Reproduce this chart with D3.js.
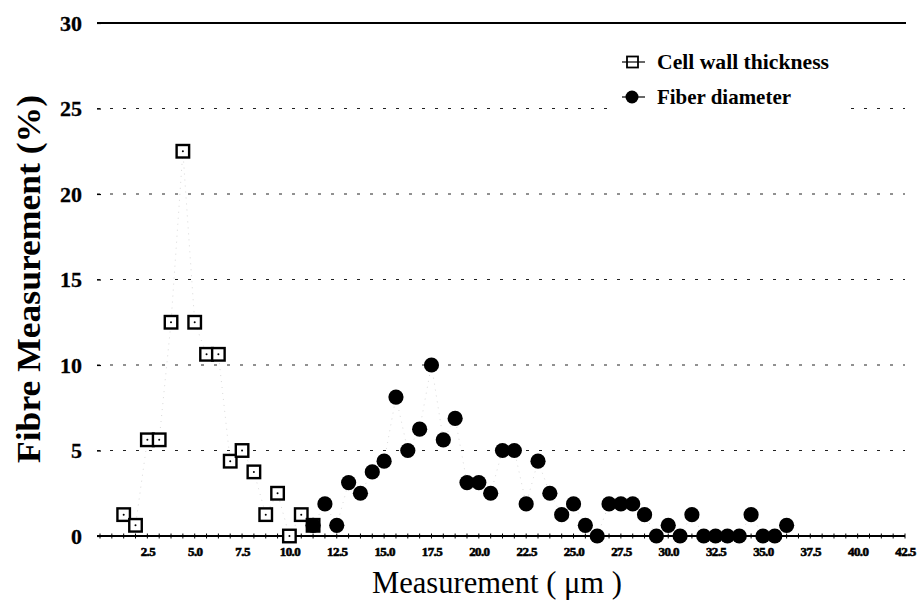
<!DOCTYPE html>
<html>
<head>
<meta charset="utf-8">
<script src="https://cdn.jsdelivr.net/npm/d3@7"></script>
<style>
  html, body { margin: 0; padding: 0; background: #fff; }
  svg { display: block; }
</style>
</head>
<body>
<svg id="chart" width="919" height="604"></svg>
<script>
// Class midpoints (µm), one class every 0.625 µm
const wallX = [1.25, 1.875, 2.5, 3.125, 3.75, 4.375, 5.0, 5.625, 6.25, 6.875,
               7.5, 8.125, 8.75, 9.375, 10.0, 10.625, 11.25];
// Cell wall thickness, share of fibres per class (%)
const wallY = [1.25, 0.625, 5.625, 5.625, 12.5, 22.5, 12.5, 10.625, 10.625, 4.375,
               5.0, 3.75, 1.25, 2.5, 0, 1.25, 0.625];

const fiberX = [11.25, 11.875, 12.5, 13.125, 13.75, 14.375, 15.0, 15.625, 16.25, 16.875,
                17.5, 18.125, 18.75, 19.375, 20.0, 20.625, 21.25, 21.875, 22.5, 23.125,
                23.75, 24.375, 25.0, 25.625, 26.25, 26.875, 27.5, 28.125, 28.75, 29.375,
                30.0, 30.625, 31.25, 31.875, 32.5, 33.125, 33.75, 34.375, 35.0, 35.625, 36.25];
// Fiber diameter, share of fibres per class (%)
const fiberY = [0.625, 1.875, 0.625, 3.125, 2.5, 3.75, 4.375, 8.125, 5.0, 6.25,
                10.0, 5.625, 6.875, 3.125, 3.125, 2.5, 5.0, 5.0, 1.875, 4.375,
                2.5, 1.25, 1.875, 0.625, 0, 1.875, 1.875, 1.875, 1.25, 0,
                0.625, 0, 1.25, 0, 0, 0, 0, 1.25, 0, 0, 0.625];

const xTicks = [2.5, 5.0, 7.5, 10.0, 12.5, 15.0, 17.5, 20.0, 22.5, 25.0,
                27.5, 30.0, 32.5, 35.0, 37.5, 40.0, 42.5];
const yTicks = [0, 5, 10, 15, 20, 25, 30];
const seriesNames = ["Cell wall thickness", "Fiber diameter"];

const svg = d3.select("#chart");
const serif = "'Liberation Serif', 'Times New Roman', serif";

const x = d3.scaleLinear().domain([0, 42.5]).range([100, 905]);
const y = d3.scaleLinear().domain([0, 30]).range([536, 23]);

// Horizontal grid: dashed inner lines, solid frame line on top
const gridG = svg.append("g");
yTicks.filter(v => v > 0 && v < 30).forEach(v => {
  gridG.append("line")
    .attr("x1", 97).attr("x2", x(42.5))
    .attr("y1", y(v)).attr("y2", y(v))
    .attr("stroke", "#222").attr("stroke-width", 1)
    .attr("stroke-dasharray", "3,10");
});
gridG.append("line")
  .attr("x1", 97).attr("x2", x(42.5) + 1)
  .attr("y1", y(30)).attr("y2", y(30))
  .attr("stroke", "#000").attr("stroke-width", 2);

// Y axis labels (no axis line)
const yAxis = d3.axisLeft(y).tickValues(yTicks).tickSize(4).tickPadding(15).tickFormat(d3.format("d"));
const yg = svg.append("g").attr("transform", "translate(101,0)").call(yAxis);
yg.select(".domain").remove();
yg.selectAll(".tick line").attr("stroke", "#000").attr("stroke-width", 1.2);
yg.selectAll(".tick text")
  .attr("font-family", serif).attr("font-weight", "bold")
  .attr("font-size", 22).attr("fill", "#000")
  .attr("stroke", "#000").attr("stroke-width", 0.3);

// X axis along zero with small class ticks
const xAxis = d3.axisBottom(x).tickValues(xTicks).tickSize(0).tickPadding(11)
  .tickFormat(d3.format(".1f"));
const xg = svg.append("g").attr("transform", `translate(0,${y(0)})`).call(xAxis);
xg.select(".domain").remove();
xg.selectAll(".tick text")
  .attr("font-family", serif).attr("font-weight", "bold")
  .attr("font-size", 13).attr("fill", "#000")
  .attr("stroke", "#000").attr("stroke-width", 0.6)
  .attr("letter-spacing", -0.6);
svg.append("line")
  .attr("x1", 97).attr("x2", x(42.5))
  .attr("y1", y(0)).attr("y2", y(0))
  .attr("stroke", "#000").attr("stroke-width", 2);
const minor = d3.range(0, 42.5 + 0.001, 0.625);
svg.append("g").selectAll("line").data(minor).join("line")
  .attr("x1", d => x(d)).attr("x2", d => x(d))
  .attr("y1", y(0) - 2.5).attr("y2", y(0) + 2.5)
  .attr("stroke", "#000").attr("stroke-width", 1);

// Axis titles
svg.append("text")
  .attr("transform", `translate(40,${279}) rotate(-90)`)
  .attr("text-anchor", "middle")
  .attr("font-family", serif).attr("font-weight", "bold")
  .attr("font-size", 34)
  .attr("textLength", 368).attr("lengthAdjust", "spacingAndGlyphs")
  .text("Fibre Measurement (%)");

svg.append("text")
  .attr("x", 497).attr("y", 593)
  .attr("text-anchor", "middle")
  .attr("font-family", serif)
  .attr("font-size", 31)
  .attr("textLength", 250).attr("lengthAdjust", "spacingAndGlyphs")
  .text("Measurement ( \u03bcm )");

// Faint dotted connectors between consecutive classes
const line = d3.line().x(d => x(d[0])).y(d => y(d[1]));
const wallPts = wallX.map((v, i) => [v, wallY[i]]);
const fiberPts = fiberX.map((v, i) => [v, fiberY[i]]);
[wallPts, fiberPts].forEach(pts => {
  svg.append("path").datum(pts)
    .attr("d", line).attr("fill", "none")
    .attr("stroke", "#c8c8c8").attr("stroke-width", 0.7)
    .attr("stroke-dasharray", "1,5");
});

// Cell wall thickness: open squares with a centre dot
const sq = 12.5;
const wallG = svg.append("g").selectAll("g").data(wallPts).join("g")
  .attr("transform", d => `translate(${x(d[0])},${y(d[1])})`);
wallG.append("rect")
  .attr("x", -sq / 2).attr("y", -sq / 2).attr("width", sq).attr("height", sq)
  .attr("fill", "#fff").attr("stroke", "#000").attr("stroke-width", 2.4);
wallG.append("circle").attr("r", 1).attr("fill", "#000");

// Fiber diameter: filled circles
svg.append("g").selectAll("circle").data(fiberPts).join("circle")
  .attr("cx", d => x(d[0])).attr("cy", d => y(d[1]))
  .attr("r", 7.6).attr("fill", "#000");

// Legend
const lg = svg.append("g");
lg.append("rect").attr("x", 608).attr("y", 38).attr("width", 236).attr("height", 80)
  .attr("fill", "#fff");
const rows = [62, 97];
rows.forEach((ry, i) => {
  lg.append("line").attr("x1", 622).attr("x2", 645).attr("y1", ry).attr("y2", ry)
    .attr("stroke", "#000").attr("stroke-width", 1.2);
  if (i === 0) {
    lg.append("rect").attr("x", 627).attr("y", ry - 5.5).attr("width", 11).attr("height", 11)
      .attr("fill", "none").attr("stroke", "#000").attr("stroke-width", 1.8);
  } else {
    lg.append("circle").attr("cx", 632).attr("cy", ry).attr("r", 6.5).attr("fill", "#000");
  }
  lg.append("text")
    .attr("x", 657).attr("y", ry + 7)
    .attr("font-family", serif).attr("font-weight", "bold")
    .attr("font-size", 21)
    .attr("textLength", i === 0 ? 172 : 134).attr("lengthAdjust", "spacingAndGlyphs")
    .text(seriesNames[i]);
});
</script>
</body>
</html>
